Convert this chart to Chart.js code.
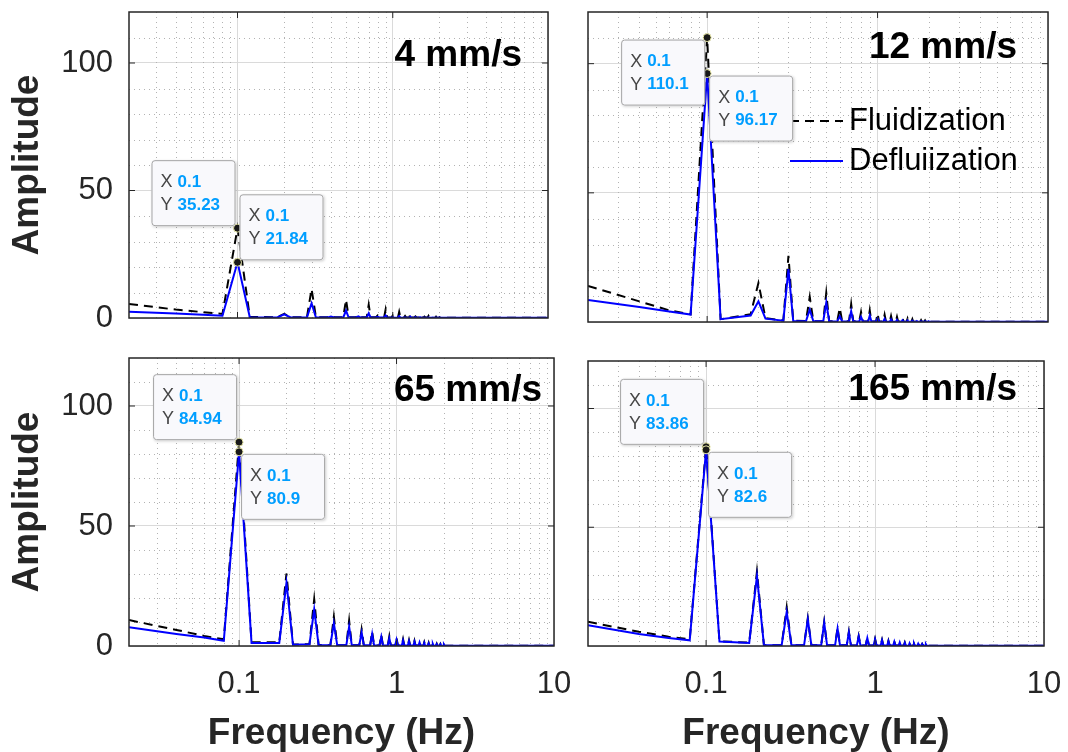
<!DOCTYPE html>
<html>
<head>
<meta charset="utf-8">
<script src="https://cdn.jsdelivr.net/npm/chart.js@4.4.0/dist/chart.umd.min.js"></script>
<style>
  body { margin: 0; background: #fff; width: 1068px; height: 752px; overflow: hidden; position: relative; }
  canvas { position: absolute; }
</style>
</head>
<body>
<script>
// frequency bins (Hz) shared by every spectrum
const freqHz = [0.02, 0.04, 0.06, 0.08, 0.1, 0.12,
  0.18, 0.2, 0.22, 0.28, 0.3, 0.32, 0.38, 0.4, 0.42, 0.48, 0.5, 0.52,
  0.58, 0.6, 0.62, 0.68, 0.7, 0.72, 0.78, 0.8, 0.82, 0.88, 0.9, 0.92,
  0.98, 1.0, 1.02, 1.08, 1.1, 1.12, 1.18, 1.2, 1.22, 1.28, 1.3, 1.32,
  1.38, 1.4, 1.42, 1.48, 1.5, 1.52, 1.58, 1.6, 1.62, 1.68, 1.7, 1.72,
  1.78, 1.8, 1.82, 1.88, 1.9, 1.92, 1.98, 2.0, 2.02, 10];

// 4 mm/s
const fluid4 = [5.5, 3.3, 2.3, 1.6, 35.23, 0.4,
  0.3, 1.6, 0.3, 0.3, 11.4, 0.3, 0.3, 1.0, 0.3, 0.3, 7.2, 0.3,
  0.3, 1.2, 0.3, 0.3, 5.2, 0.3, 0.3, 1.0, 0.3, 0.3, 3.4, 0.3,
  0.2, 1.0, 0.2, 0.2, 2.4, 0.2, 0.2, 0.8, 0.2, 0.2, 1.8, 0.2,
  0.2, 0.6, 0.2, 0.2, 1.2, 0.2, 0.2, 0.5, 0.2, 0.2, 0.8, 0.2,
  0.1, 0.4, 0.1, 0.1, 0.5, 0.1, 0.1, 0.3, 0.1, 0.1];
const defluid4 = [2.5, 1.8, 1.3, 0.9, 21.84, 0.3,
  0.2, 1.4, 0.2, 0.2, 5.8, 0.2, 0.2, 0.6, 0.2, 0.2, 2.9, 0.2,
  0.2, 0.6, 0.2, 0.2, 1.8, 0.2, 0.2, 0.5, 0.2, 0.2, 1.0, 0.2,
  0.1, 0.4, 0.1, 0.1, 0.7, 0.1, 0.1, 0.3, 0.1, 0.1, 0.5, 0.1,
  0.1, 0.3, 0.1, 0.1, 0.3, 0.1, 0.1, 0.2, 0.1, 0.1, 0.2, 0.1,
  0.1, 0.2, 0.1, 0.1, 0.2, 0.1, 0.1, 0.2, 0.1, 0.1];

// 12 mm/s
const fluid12 = [14.0, 8.0, 4.5, 3.0, 110.1, 1.1,
  3.0, 15.1, 1.5, 0.6, 25.6, 0.5, 0.4, 9.7, 0.3, 0.3, 11.3, 0.3,
  0.3, 5.4, 0.3, 0.3, 6.9, 0.3, 0.2, 3.9, 0.2, 0.2, 4.5, 0.2,
  0.2, 3.3, 0.2, 0.2, 2.8, 0.2, 0.2, 2.3, 0.2, 0.2, 2.0, 0.2,
  0.2, 1.6, 0.2, 0.1, 1.3, 0.1, 0.1, 1.1, 0.1, 0.1, 0.9, 0.1,
  0.1, 0.7, 0.1, 0.1, 0.6, 0.1, 0.1, 0.5, 0.1, 0.1];
const defluid12 = [8.5, 5.8, 4.1, 2.9, 96.17, 1.1,
  2.5, 8.0, 1.3, 0.5, 20.5, 0.4, 0.3, 4.8, 0.3, 0.3, 7.5, 0.3,
  0.2, 2.2, 0.2, 0.2, 4.2, 0.2, 0.2, 2.0, 0.2, 0.2, 2.5, 0.2,
  0.2, 1.5, 0.2, 0.1, 1.2, 0.1, 0.1, 1.0, 0.1, 0.1, 0.8, 0.1,
  0.1, 0.7, 0.1, 0.1, 0.6, 0.1, 0.1, 0.5, 0.1, 0.1, 0.4, 0.1,
  0.1, 0.3, 0.1, 0.1, 0.3, 0.1, 0.1, 0.2, 0.1, 0.1];

// 65 mm/s
const fluid65 = [10.8, 6.7, 4.2, 2.8, 84.94, 1.6,
  1.5, 30.2, 0.6, 0.8, 19.5, 0.4, 0.3, 12.2, 0.3, 0.3, 10.6, 0.3,
  0.3, 6.9, 0.3, 0.3, 6.0, 0.3, 0.2, 4.7, 0.2, 0.2, 4.0, 0.2,
  0.2, 3.2, 0.2, 0.2, 2.8, 0.2, 0.2, 2.4, 0.2, 0.2, 2.1, 0.2,
  0.2, 1.8, 0.2, 0.1, 1.5, 0.1, 0.1, 1.3, 0.1, 0.1, 1.1, 0.1,
  0.1, 0.9, 0.1, 0.1, 0.8, 0.1, 0.1, 0.7, 0.1, 0.1];
const defluid65 = [7.8, 5.0, 3.5, 2.2, 80.9, 1.3,
  1.3, 26.4, 0.5, 0.7, 15.3, 0.3, 0.3, 9.5, 0.3, 0.3, 8.1, 0.3,
  0.3, 5.6, 0.3, 0.3, 5.0, 0.3, 0.2, 3.8, 0.2, 0.2, 3.2, 0.2,
  0.2, 2.6, 0.2, 0.2, 2.3, 0.2, 0.2, 2.0, 0.2, 0.2, 1.8, 0.2,
  0.2, 1.5, 0.2, 0.1, 1.3, 0.1, 0.1, 1.1, 0.1, 0.1, 0.9, 0.1,
  0.1, 0.8, 0.1, 0.1, 0.7, 0.1, 0.1, 0.6, 0.1, 0.1];

// 165 mm/s
const fluid165 = [10.2, 6.0, 3.9, 2.8, 83.86, 2.0,
  1.4, 31.3, 0.3, 0.3, 16.3, 0.3, 0.3, 11.7, 0.3, 0.3, 10.2, 0.3,
  0.3, 7.7, 0.3, 0.3, 6.0, 0.3, 0.2, 4.2, 0.2, 0.2, 3.5, 0.2,
  0.2, 3.0, 0.2, 0.2, 2.6, 0.2, 0.2, 2.2, 0.2, 0.2, 1.9, 0.2,
  0.2, 1.6, 0.2, 0.1, 1.4, 0.1, 0.1, 1.2, 0.1, 0.1, 1.0, 0.1,
  0.1, 0.9, 0.1, 0.1, 0.8, 0.1, 0.1, 0.7, 0.1, 0.1];
const defluid165 = [8.7, 5.1, 3.4, 2.4, 82.6, 1.9,
  1.3, 29.5, 0.3, 0.3, 14.4, 0.3, 0.3, 11.2, 0.3, 0.3, 9.8, 0.3,
  0.3, 7.3, 0.3, 0.3, 5.7, 0.3, 0.2, 4.0, 0.2, 0.2, 3.3, 0.2,
  0.2, 2.8, 0.2, 0.2, 2.4, 0.2, 0.2, 2.0, 0.2, 0.2, 1.8, 0.2,
  0.2, 1.5, 0.2, 0.1, 1.3, 0.1, 0.1, 1.1, 0.1, 0.1, 1.0, 0.1,
  0.1, 0.9, 0.1, 0.1, 0.8, 0.1, 0.1, 0.7, 0.1, 0.1];

const speedLabels = ['4 mm/s', '12 mm/s', '65 mm/s', '165 mm/s'];
const seriesNames = ['Fluidization', 'Defluiization'];
const fluidSeries = [fluid4, fluid12, fluid65, fluid165];
const defluidSeries = [defluid4, defluid12, defluid65, defluid165];

// data tips
const tipX = 0.1;
const tipFluid = [35.23, 110.1, 84.94, 83.86];
const tipDefluid = [21.84, 96.17, 80.9, 82.6];

// axes
const xTicks = [0.1, 1, 10];
const yTicks = [0, 50, 100];
const minorX = [0.03, 0.04, 0.05, 0.06, 0.07, 0.08, 0.09, 0.2, 0.3, 0.4, 0.5, 0.6, 0.7, 0.8, 0.9, 2, 3, 4, 5, 6, 7, 8, 9];
const minorY = [10, 20, 30, 40, 60, 70, 80, 90, 110];

Chart.defaults.font.family = '"Liberation Sans", Arial, Helvetica, sans-serif';
const ink = 'rgb(38,38,38)';
const FONT = '"Liberation Sans", Arial, sans-serif';

// where each panel sits on the page
const panelLayout = [
  {area: {l: 129, t: 12, r: 548, b: 318}, showY: true, showX: false, tipPlace: ['nw', 'ne'], labelDx: 26, labelDy: 54, legend: false},
  {area: {l: 588, t: 12, r: 1048, b: 322}, showY: false, showX: false, tipPlace: ['sw', 'se'], labelDx: 31, labelDy: 46, legend: true},
  {area: {l: 129, t: 358, r: 554, b: 646}, showY: true, showX: true, tipPlace: ['nw', 'se'], labelDx: 12, labelDy: 43, legend: false},
  {area: {l: 588, t: 361, r: 1044, b: 646}, showY: false, showX: true, tipPlace: ['nw', 'se'], labelDx: 27, labelDy: 39, legend: false}
];

function boxPath(ctx, x, y, w, h, r) {
  ctx.beginPath();
  ctx.moveTo(x + r, y);
  ctx.lineTo(x + w - r, y);
  ctx.quadraticCurveTo(x + w, y, x + w, y + r);
  ctx.lineTo(x + w, y + h - r);
  ctx.quadraticCurveTo(x + w, y + h, x + w - r, y + h);
  ctx.lineTo(x + r, y + h);
  ctx.quadraticCurveTo(x, y + h, x, y + h - r);
  ctx.lineTo(x, y + r);
  ctx.quadraticCurveTo(x, y, x + r, y);
  ctx.closePath();
}

function drawTip(ctx, px, py, value, place) {
  const w = 84, h = 66, g = 2;
  const bx = place.includes('w') ? px - g - w : px + g;
  const by = place.includes('n') ? py - g - h : py + g;
  ctx.save();
  ctx.shadowColor = 'rgba(0,0,0,0.2)';
  ctx.shadowBlur = 3;
  ctx.shadowOffsetX = 1;
  ctx.shadowOffsetY = 1;
  boxPath(ctx, bx, by, w, h, 3);
  ctx.fillStyle = 'rgb(249,249,252)';
  ctx.fill();
  ctx.restore();
  ctx.save();
  boxPath(ctx, bx + 0.5, by + 0.5, w - 1, h - 1, 3);
  ctx.strokeStyle = 'rgb(165,165,165)';
  ctx.lineWidth = 1;
  ctx.stroke();
  ctx.textBaseline = 'middle';
  ctx.textAlign = 'left';
  const rows = [['X', String(tipX)], ['Y', String(value)]];
  rows.forEach((r, i) => {
    const ty = by + 22 + i * 23;
    ctx.font = '18px ' + FONT;
    ctx.fillStyle = 'rgb(70,70,70)';
    ctx.fillText(r[0], bx + 9, ty);
    const lw = ctx.measureText(r[0] + ' ').width;
    ctx.font = 'bold 17px ' + FONT;
    ctx.fillStyle = 'rgb(0,158,255)';
    ctx.fillText(r[1], bx + 9 + lw, ty);
  });
  ctx.restore();
}

function drawMarker(ctx, px, py) {
  ctx.save();
  ctx.beginPath();
  ctx.arc(px, py, 4, 0, Math.PI * 2);
  ctx.fillStyle = 'rgb(25,25,25)';
  ctx.fill();
  ctx.strokeStyle = 'rgb(235,235,170)';
  ctx.lineWidth = 1;
  ctx.stroke();
  ctx.restore();
}

const decoPlugin = {
  id: 'panelDeco',
  beforeDatasetsDraw(chart) {
    const {ctx, chartArea: c, scales: {x, y}} = chart;
    ctx.save();
    ctx.strokeStyle = 'rgb(178,178,178)';
    ctx.lineWidth = 1;
    ctx.setLineDash([1, 4]);
    ctx.beginPath();
    minorX.forEach(v => {
      const px = Math.round(x.getPixelForValue(v)) + 0.5;
      ctx.moveTo(px, c.top);
      ctx.lineTo(px, c.bottom);
    });
    minorY.forEach(v => {
      const py = Math.round(y.getPixelForValue(v)) + 0.5;
      ctx.moveTo(c.left, py);
      ctx.lineTo(c.right, py);
    });
    ctx.stroke();
    ctx.restore();
  },
  afterDatasetsDraw(chart) {
    const {ctx, chartArea: c, scales: {x, y}} = chart;
    ctx.save();
    ctx.strokeStyle = ink;
    ctx.lineWidth = 1.5;
    ctx.strokeRect(c.left, c.top, c.right - c.left, c.bottom - c.top);
    ctx.lineWidth = 1;
    ctx.beginPath();
    xTicks.forEach(v => {
      const px = x.getPixelForValue(v);
      if (px > c.left + 2 && px < c.right - 2) {
        ctx.moveTo(px, c.bottom); ctx.lineTo(px, c.bottom - 6);
        ctx.moveTo(px, c.top); ctx.lineTo(px, c.top + 6);
      }
    });
    yTicks.forEach(v => {
      const py = y.getPixelForValue(v);
      if (py > c.top + 2 && py < c.bottom - 2) {
        ctx.moveTo(c.left, py); ctx.lineTo(c.left + 6, py);
        ctx.moveTo(c.right, py); ctx.lineTo(c.right - 6, py);
      }
    });
    ctx.stroke();
    ctx.restore();
  },
  afterDraw(chart, args, o) {
    const {ctx, chartArea: c, scales: {x, y}} = chart;
    // speed label
    ctx.save();
    ctx.font = 'bold 37px ' + FONT;
    ctx.fillStyle = '#000';
    ctx.textAlign = 'right';
    ctx.textBaseline = 'alphabetic';
    ctx.fillText(o.label, c.right - o.labelDx, c.top + o.labelDy);
    ctx.restore();
    // legend
    if (o.legend) {
      ctx.save();
      ctx.font = '31px ' + FONT;
      ctx.textBaseline = 'middle';
      ctx.textAlign = 'left';
      chart.data.datasets.forEach((ds, i) => {
        const ly = c.top + 109 + i * 40;
        ctx.strokeStyle = ds.borderColor;
        ctx.lineWidth = ds.borderWidth;
        ctx.setLineDash(ds.borderDash || []);
        ctx.beginPath();
        ctx.moveTo(c.right - 258, ly);
        ctx.lineTo(c.right - 205, ly);
        ctx.stroke();
        ctx.fillStyle = '#000';
        ctx.fillText(ds.label, c.right - 199, ly);
      });
      ctx.restore();
    }
    // data tips
    const px = x.getPixelForValue(tipX);
    const pf = y.getPixelForValue(o.tips[0]);
    const pd = y.getPixelForValue(o.tips[1]);
    drawMarker(ctx, px, pf);
    drawMarker(ctx, px, pd);
    drawTip(ctx, px, pf, o.tips[0], o.tipPlace[0]);
    drawTip(ctx, px, pd, o.tips[1], o.tipPlace[1]);
  }
};

panelLayout.forEach((L, i) => {
  const a = L.area;
  const cx = L.showY ? 0 : a.l - 30;
  const cy = a.t - 12;
  const cw = a.r + 24 - cx;
  const ch = L.showX ? 752 - cy : a.b + 14 - cy;
  const canvas = document.createElement('canvas');
  canvas.width = cw;
  canvas.height = ch;
  canvas.style.left = cx + 'px';
  canvas.style.top = cy + 'px';
  document.body.appendChild(canvas);

  const yWidth = L.showY ? a.l - cx : 0;
  const xHeight = L.showX ? 752 - a.b : 0;
  const zeroPad = s => { s.paddingLeft = 0; s.paddingRight = 0; s.paddingTop = 0; s.paddingBottom = 0; };

  new Chart(canvas, {
    type: 'line',
    data: {
      datasets: [
        {
          label: seriesNames[0],
          data: freqHz.map((f, k) => ({x: f, y: fluidSeries[i][k]})),
          borderColor: 'rgb(0,0,0)',
          borderWidth: 2,
          borderDash: [9, 6],
          pointRadius: 0,
          tension: 0,
          order: 2
        },
        {
          label: seriesNames[1],
          data: freqHz.map((f, k) => ({x: f, y: defluidSeries[i][k]})),
          borderColor: 'rgb(0,0,255)',
          borderWidth: 2,
          pointRadius: 0,
          tension: 0,
          order: 1
        }
      ]
    },
    options: {
      responsive: false,
      animation: false,
      devicePixelRatio: 1,
      layout: {padding: {left: L.showY ? 0 : 30, top: 12, right: 24, bottom: L.showX ? 0 : 14}},
      plugins: {
        legend: {display: false},
        tooltip: {enabled: false},
        panelDeco: {
          label: speedLabels[i], labelDx: L.labelDx, labelDy: L.labelDy,
          legend: L.legend, tips: [tipFluid[i], tipDefluid[i]], tipPlace: L.tipPlace
        }
      },
      scales: {
        x: {
          type: 'logarithmic',
          min: 0.02,
          max: 10,
          afterBuildTicks: s => { s.ticks = xTicks.map(v => ({value: v})); },
          afterFit: s => { s.height = xHeight; zeroPad(s); },
          grid: {color: 'rgb(218,218,218)', lineWidth: 1, drawTicks: false},
          border: {display: false},
          ticks: {
            display: L.showX, autoSkip: false, maxRotation: 0, padding: 20,
            color: ink, font: {size: 31},
            callback: v => String(v)
          },
          title: {
            display: L.showX, text: 'Frequency (Hz)', color: ink,
            font: {size: 37, weight: 'bold', lineHeight: 1.0},
            padding: {top: 0, bottom: 0}
          }
        },
        y: {
          min: 0,
          max: 120,
          afterBuildTicks: s => { s.ticks = yTicks.map(v => ({value: v})); },
          afterFit: s => { s.width = yWidth; zeroPad(s); },
          grid: {color: 'rgb(218,218,218)', lineWidth: 1, drawTicks: false},
          border: {display: false},
          ticks: {display: L.showY, padding: 16, color: ink, font: {size: 31}},
          title: {
            display: L.showY, text: 'Amplitude', color: ink,
            font: {size: 37, weight: 'bold'},
            padding: {top: 6, bottom: 0}
          }
        }
      }
    },
    plugins: [decoPlugin]
  });
});
</script>
</body>
</html>
